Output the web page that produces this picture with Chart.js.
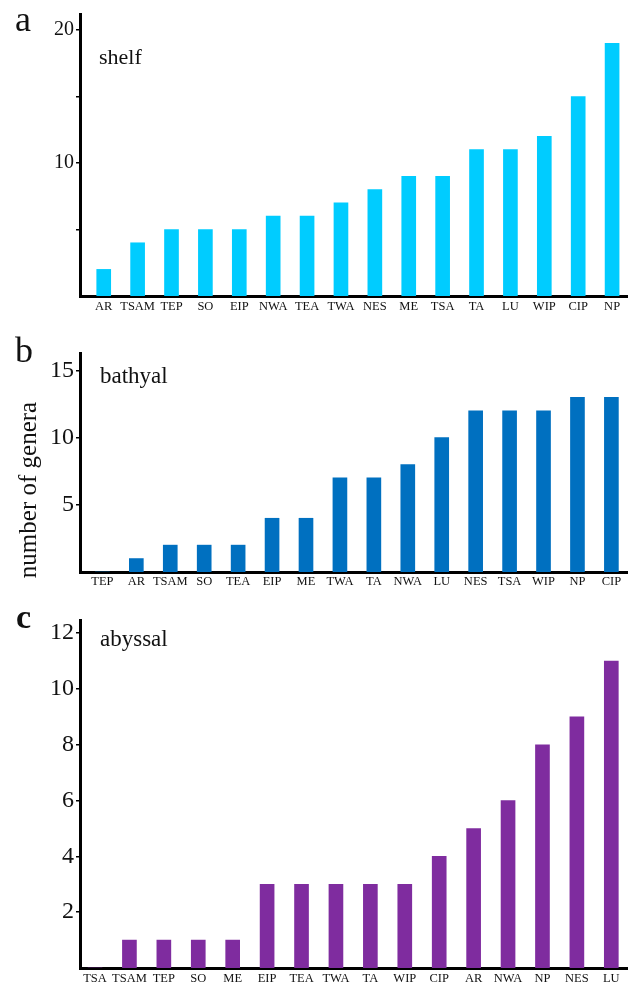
<!DOCTYPE html>
<html>
<head>
<meta charset="utf-8">
<script src="https://cdn.jsdelivr.net/npm/chart.js@4.4.1/dist/chart.umd.min.js"></script>
<style>
body { margin: 0; background: #fff; }
.panel { position: absolute; left: 0; }
</style>
</head>
<body>
<div class="panel" style="top:0px"><canvas id="shelf" width="635" height="320"></canvas></div>
<div class="panel" style="top:320px"><canvas id="bathyal" width="635" height="275"></canvas></div>
<div class="panel" style="top:600px"><canvas id="abyssal" width="635" height="386"></canvas></div>
<script>
// data
const shelf_regions = ['AR', 'TSAM', 'TEP', 'SO', 'EIP', 'NWA', 'TEA', 'TWA', 'NES', 'ME', 'TSA', 'TA', 'LU', 'WIP', 'CIP', 'NP']
const shelf_genera = [2, 4, 5, 5, 5, 6, 6, 7, 8, 9, 9, 11, 11, 12, 15, 19]
const shelf_ticks = [5, 10, 15, 20]
const shelf_tick_labels = ['', '10', '', '20']

const bathyal_regions = ['TEP', 'AR', 'TSAM', 'SO', 'TEA', 'EIP', 'ME', 'TWA', 'TA', 'NWA', 'LU', 'NES', 'TSA', 'WIP', 'NP', 'CIP']
const bathyal_genera = [0, 1, 2, 2, 2, 4, 4, 7, 7, 8, 10, 12, 12, 12, 13, 13]
const bathyal_ticks = [5, 10, 15]
const bathyal_tick_labels = ['5', '10', '15']

const abyssal_regions = ['TSA', 'TSAM', 'TEP', 'SO', 'ME', 'EIP', 'TEA', 'TWA', 'TA', 'WIP', 'CIP', 'AR', 'NWA', 'NP', 'NES', 'LU']
const abyssal_genera = [0, 1, 1, 1, 1, 3, 3, 3, 3, 3, 4, 5, 6, 8, 9, 11]
const abyssal_ticks = [2, 4, 6, 8, 10, 12]
const abyssal_tick_labels = ['2', '4', '6', '8', '10', '12']

const SERIF = '"Liberation Serif", "Times New Roman", serif'

const panelText = {
    id: 'panelText',
    afterDraw(chart, args, opts) {
        const ctx = chart.ctx
        opts.texts.forEach(t => {
            ctx.save()
            ctx.fillStyle = '#111'
            ctx.font = t.font
            ctx.textBaseline = 'alphabetic'
            ctx.textAlign = t.align || 'left'
            ctx.translate(t.x, t.y)
            if (t.rotate) ctx.rotate(t.rotate)
            ctx.fillText(t.text, 0, 0)
            ctx.restore()
        })
    }
}

function makePanel(id, regions, genera, ticks, tickLabels, color, p) {
    const points = regions.map((r, i) => ({ x: i, y: genera[i] }))
    return new Chart(document.getElementById(id), {
        type: 'bar',
        data: {
            datasets: [{
                data: points,
                backgroundColor: color,
                borderWidth: 0,
                barThickness: 14
            }]
        },
        options: {
            responsive: false,
            animation: false,
            layout: { padding: { top: p.top, right: 8, left: 0, bottom: 0 } },
            plugins: {
                legend: { display: false },
                tooltip: { enabled: false },
                panelText: { texts: p.texts }
            },
            scales: {
                x: {
                    type: 'linear',
                    offset: false,
                    min: p.xmin,
                    max: p.xmax,
                    afterBuildTicks: s => { s.ticks = regions.map((r, i) => ({ value: i })) },
                    afterFit: s => { s.height = p.xh },
                    grid: { display: false, drawTicks: false, offset: false },
                    border: { display: true, color: '#000', width: 3 },
                    ticks: {
                        autoSkip: false,
                        maxRotation: 0,
                        padding: p.xpad,
                        color: '#111',
                        font: { family: SERIF, size: 12.5 },
                        callback: v => regions[v]
                    }
                },
                y: {
                    min: 0,
                    max: p.ymax,
                    afterBuildTicks: s => { s.ticks = ticks.map(v => ({ value: v })) },
                    afterFit: s => { s.width = 80 },
                    grid: { drawOnChartArea: false, color: '#000', lineWidth: 1.5, tickLength: 4 },
                    border: { display: true, color: '#000', width: 3 },
                    ticks: {
                        padding: 2,
                        color: '#111',
                        font: { family: SERIF, size: p.yfont },
                        callback: v => tickLabels[ticks.indexOf(v)]
                    }
                }
            }
        },
        plugins: [panelText]
    })
}

makePanel('shelf', shelf_regions, shelf_genera, shelf_ticks, shelf_tick_labels, '#00CCFF', {
    top: 13, xh: 24, xpad: 3, ymax: 21.2, yfont: 20, xmin: -0.70, xmax: 15.44,
    texts: [
        { text: 'a', x: 15, y: 31, font: '36px ' + SERIF },
        { text: 'shelf', x: 99, y: 64, font: '22px ' + SERIF }
    ]
})

makePanel('bathyal', bathyal_regions, bathyal_genera, bathyal_ticks, bathyal_tick_labels, '#0070C0', {
    top: 33, xh: 23, xpad: 2, ymax: 16.3, yfont: 24, xmin: -0.66, xmax: 15.46,
    texts: [
        { text: 'b', x: 15, y: 42, font: '36px ' + SERIF },
        { text: 'bathyal', x: 100, y: 63, font: '23px ' + SERIF },
        { text: 'number of genera', x: 36, y: 170, font: '25px ' + SERIF, align: 'center', rotate: -Math.PI / 2 }
    ]
})

makePanel('abyssal', abyssal_regions, abyssal_genera, abyssal_ticks, abyssal_tick_labels, '#7F2C9F', {
    top: 20, xh: 18, xpad: 3, ymax: 12.47, yfont: 24, xmin: -0.436, xmax: 15.456,
    texts: [
        { text: 'c', x: 16, y: 28, font: 'bold 34px ' + SERIF },
        { text: 'abyssal', x: 100, y: 46, font: '23px ' + SERIF }
    ]
})
</script>
</body>
</html>
